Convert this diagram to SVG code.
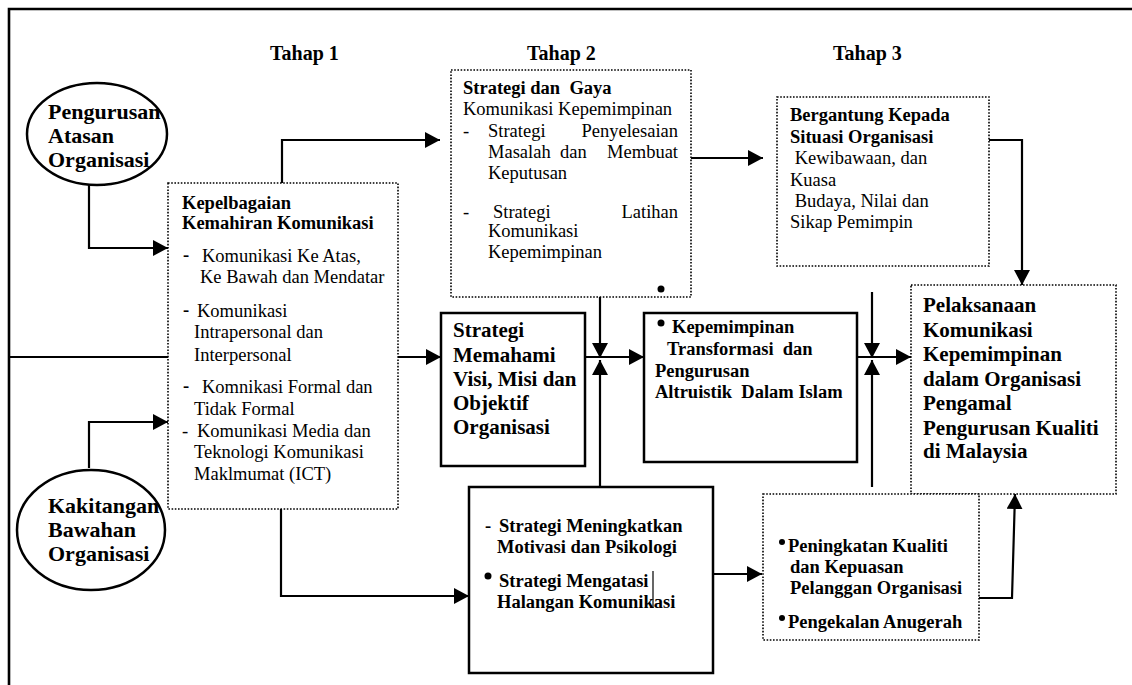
<svg xmlns="http://www.w3.org/2000/svg" width="1132" height="685" viewBox="0 0 1132 685">
<style>
text { font-family: "Liberation Serif", "Times New Roman", serif; fill: #000; }
.b { font-weight: bold; font-size: 18.5px; }
.r { font-size: 18.5px; }
.h { font-weight: bold; font-size: 20px; }
.big { font-weight: bold; font-size: 21px; }
.el { font-weight: bold; font-size: 22px; }
.conn { stroke: #000; stroke-width: 2.2; fill: none; }
.dotbox { fill: #fff; stroke: #000; stroke-width: 1.6; stroke-dasharray: 1.6 1.6; }
.solid { fill: #fff; stroke: #000; stroke-width: 2.5; }
.ell { fill: #fff; stroke: #000; stroke-width: 2.5; }
</style>
<defs>
<marker id="arr" markerUnits="userSpaceOnUse" markerWidth="16" markerHeight="16" refX="15" refY="8" orient="auto">
<path d="M0,0 L15,8 L0,16 z" fill="#000"/>
</marker>
</defs>
<rect width="1132" height="685" fill="#fff"/>
<path d="M9,685 V9 H1132" stroke="#000" stroke-width="2.6" fill="none"/>

<g id="labels">
<text class="h" x="270" y="60">Tahap 1</text>
<text class="h" x="527" y="60">Tahap 2</text>
<text class="h" x="833" y="60">Tahap 3</text>
</g>

<g id="connectors">
<path class="conn" d="M89,185 V248 H168" marker-end="url(#arr)"/>
<path class="conn" d="M89,468 V422 H168" marker-end="url(#arr)"/>
<path class="conn" d="M282,183 V140 H440" marker-end="url(#arr)"/>
<path class="conn" d="M9,357 H168"/>
<path class="conn" d="M393,357 H441" marker-end="url(#arr)"/>
<path class="conn" d="M281,509 V596 H469" marker-end="url(#arr)"/>
<path class="conn" d="M691,158 H763" marker-end="url(#arr)"/>
<path class="conn" d="M987,140 H1022 V285" marker-end="url(#arr)"/>
<path class="conn" d="M585,357 H644" marker-end="url(#arr)"/>
<path class="conn" d="M600,291 V358" marker-end="url(#arr)"/>
<path class="conn" d="M600,487 V360" marker-end="url(#arr)"/>
<path class="conn" d="M857,357 H911" marker-end="url(#arr)"/>
<path class="conn" d="M872,292 V358" marker-end="url(#arr)"/>
<path class="conn" d="M872,487 V360" marker-end="url(#arr)"/>
<path class="conn" d="M713,574 H762" marker-end="url(#arr)"/>
<path class="conn" d="M977,598 H1012 L1015,494" marker-end="url(#arr)"/>
</g>

<g id="atasan">
<ellipse class="ell" cx="97" cy="134" rx="70" ry="51"/>
<text class="el" x="48" y="119">Pengurusan</text>
<text class="el" x="48" y="143">Atasan</text>
<text class="el" x="48" y="167">Organisasi</text>
</g>

<g id="bawahan">
<ellipse class="ell" cx="91" cy="530" rx="74" ry="60"/>
<text class="el" x="48" y="513">Kakitangan</text>
<text class="el" x="48" y="537">Bawahan</text>
<text class="el" x="48" y="561">Organisasi</text>
</g>

<g id="kepelbagaian">
<rect class="dotbox" x="168" y="183" width="230" height="326"/>
<text class="b" x="182" y="209">Kepelbagaian</text>
<text class="b" x="182" y="229">Kemahiran Komunikasi</text>
<text class="b" x="183" y="261">-</text>
<text class="r" x="202" y="262">Komunikasi Ke Atas,</text>
<text class="r" x="200" y="283">Ke Bawah dan Mendatar</text>
<text class="b" x="183" y="316">-</text>
<text class="r" x="197" y="317">Komunikasi</text>
<text class="r" x="194" y="338">Intrapersonal dan</text>
<text class="r" x="194" y="361">Interpersonal</text>
<text class="b" x="183" y="392">-</text>
<text class="r" x="202" y="393">Komnikasi Formal dan</text>
<text class="r" x="194" y="415">Tidak Formal</text>
<text class="r" x="182" y="437">-</text>
<text class="r" x="197" y="437">Komunikasi Media dan</text>
<text class="r" x="194" y="458">Teknologi Komunikasi</text>
<text class="r" x="194" y="480">Maklmumat (ICT)</text>
</g>

<g id="tahap2">
<rect class="dotbox" x="451" y="70" width="240" height="227"/>
<text class="b" x="463" y="94">Strategi dan&#160; Gaya</text>
<text class="r" x="463" y="115">Komunikasi Kepemimpinan</text>
<text class="r" x="463" y="137">-</text>
<text class="r" x="488" y="137">Strategi</text>
<text class="r" x="678" y="137" text-anchor="end">Penyelesaian</text>
<text class="r" x="488" y="158">Masalah</text>
<text class="r" x="560" y="158">dan</text>
<text class="r" x="678" y="158" text-anchor="end">Membuat</text>
<text class="r" x="488" y="179">Keputusan</text>
<text class="r" x="463" y="218">-</text>
<text class="r" x="493" y="218">Strategi</text>
<text class="r" x="678" y="218" text-anchor="end">Latihan</text>
<text class="r" x="488" y="237">Komunikasi</text>
<text class="r" x="488" y="258">Kepemimpinan</text>
<circle cx="661" cy="289" r="3.5" fill="#000"/>
</g>

<g id="tahap3">
<rect class="dotbox" x="777" y="97" width="212" height="169"/>
<text class="b" x="790" y="121">Bergantung Kepada</text>
<text class="b" x="790" y="143">Situasi Organisasi</text>
<text class="r" x="790" y="164">&#160;Kewibawaan, dan</text>
<text class="r" x="790" y="186">Kuasa</text>
<text class="r" x="790" y="207">&#160;Budaya, Nilai dan</text>
<text class="r" x="790" y="228">Sikap Pemimpin</text>
</g>

<g id="memahami">
<rect class="solid" x="441" y="313" width="144" height="153"/>
<text class="big" x="453" y="337">Strategi</text>
<text class="big" x="453" y="362">Memahami</text>
<text class="big" x="453" y="386">Visi, Misi dan</text>
<text class="big" x="453" y="410">Objektif</text>
<text class="big" x="453" y="434">Organisasi</text>
</g>

<g id="kepemimpinan">
<rect class="solid" x="644" y="313" width="213" height="149"/>
<circle cx="661" cy="323" r="3.5" fill="#000"/>
<text class="b" x="672" y="333">Kepemimpinan</text>
<text class="b" x="667" y="355">Transformasi&#160; dan</text>
<text class="b" x="655" y="377">Pengurusan</text>
<text class="b" x="655" y="398">Altruistik&#160; Dalam Islam</text>
</g>

<g id="pelaksanaan">
<rect class="dotbox" x="911" y="285" width="205" height="209"/>
<text class="big" x="923" y="312">Pelaksanaan</text>
<text class="big" x="923" y="337">Komunikasi</text>
<text class="big" x="923" y="361">Kepemimpinan</text>
<text class="big" x="923" y="386">dalam Organisasi</text>
<text class="big" x="923" y="410">Pengamal</text>
<text class="big" x="923" y="435">Pengurusan Kualiti</text>
<text class="big" x="923" y="458">di Malaysia</text>
</g>

<g id="meningkatkan">
<rect class="solid" x="469" y="487" width="244" height="186"/>
<text class="b" x="485" y="532">-</text>
<text class="b" x="499" y="532">Strategi Meningkatkan</text>
<text class="b" x="497" y="553">Motivasi dan Psikologi</text>
<circle cx="488" cy="576" r="3.5" fill="#000"/>
<text class="b" x="499" y="587">Strategi Mengatasi</text>
<text class="b" x="497" y="608">Halangan Komunikasi</text>
<line x1="653" y1="571" x2="653" y2="608" stroke="#000" stroke-width="1.2"/>
</g>

<g id="kualiti">
<rect class="dotbox" x="763" y="494" width="216" height="146"/>
<circle cx="782" cy="542" r="3" fill="#000"/>
<text class="b" x="788" y="552">Peningkatan Kualiti</text>
<text class="b" x="790" y="573">dan Kepuasan</text>
<text class="b" x="790" y="594">Pelanggan Organisasi</text>
<circle cx="782" cy="618" r="3" fill="#000"/>
<text class="b" x="788" y="628">Pengekalan Anugerah</text>
</g>
</svg>
